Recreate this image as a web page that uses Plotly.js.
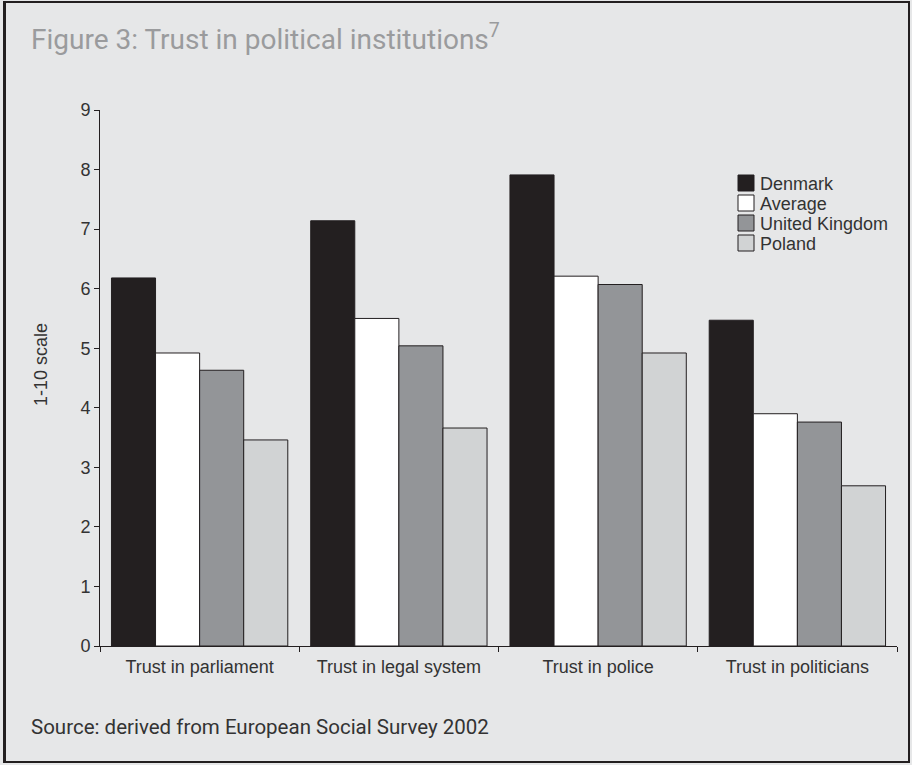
<!DOCTYPE html>
<html>
<head>
<meta charset="utf-8">
<script src="https://cdn.plot.ly/plotly-3.0.1.min.js"></script>
<style>
  html, body { margin: 0; padding: 0; background: #ffffff; }
  #wrap { position: relative; width: 912px; height: 765px; }
  #chart { position: absolute; left: 0; top: 0; width: 912px; height: 765px; }
  #frame { position: absolute; left: 3px; top: 1px; width: 902px; height: 758px;
           border: 2px solid #231f20; border-left-width: 3px; pointer-events: none; }
</style>
</head>
<body>
<div id="wrap">
  <div id="chart"></div>
  <div id="frame"></div>
</div>
<script>
// ---- data ----
const categories = ["Trust in parliament", "Trust in legal system", "Trust in police", "Trust in politicians"];
const seriesNames = ["Denmark", "Average", "United Kingdom", "Poland"];
const denmark = [6.18, 7.14, 7.91, 5.47];
const average = [4.92, 5.50, 6.21, 3.90];
const unitedKingdom = [4.63, 5.04, 6.07, 3.76];
const poland = [3.46, 3.66, 4.92, 2.69];
const yTicks = [0, 1, 2, 3, 4, 5, 6, 7, 8, 9];

// ---- styling ----
const seriesValues = [denmark, average, unitedKingdom, poland];
const seriesColors = ["#231f20", "#ffffff", "#939598", "#d1d3d4"];
const bg = "#e6e7e8";
const ink = "#231f20";
const txt = "#333333";
const sansFont = "Liberation Sans, Arial, sans-serif";
const W = 912, H = 765;
const M = { l: 100, r: 15, t: 110, b: 119 };
const plotW = W - M.l - M.r, plotH = H - M.t - M.b;
const px2x = px => (px - M.l) / plotW;
const py2y = py => (H - M.b - py) / plotH;

const traces = seriesNames.map((name, i) => ({
  type: "bar",
  name: name,
  x: categories,
  y: seriesValues[i],
  marker: { color: seriesColors[i], line: { color: ink, width: 1 } },
  hoverinfo: "x+y+name"
}));

// custom legend (swatches + labels)
const shapes = [];
const annotations = [];
const legRow0 = 183, legStep = 20, sw = 16;
seriesNames.forEach((name, i) => {
  const cy = legRow0 + i * legStep;
  shapes.push({
    type: "rect", xref: "paper", yref: "paper",
    x0: px2x(738), x1: px2x(738 + sw),
    y0: py2y(cy + sw / 2), y1: py2y(cy - sw / 2),
    fillcolor: seriesColors[i], line: { color: ink, width: 1 }
  });
  annotations.push({
    xref: "paper", yref: "paper", x: px2x(758), y: py2y(cy + 1),
    xanchor: "left", yanchor: "middle", showarrow: false, text: name,
    font: { family: sansFont, size: 18, color: txt }
  });
});

// y-axis title
annotations.push({
  xref: "paper", yref: "paper", x: px2x(41), y: py2y(365),
  xanchor: "center", yanchor: "middle", showarrow: false, textangle: -90,
  text: "1-10 scale",
  font: { family: sansFont, size: 18, color: txt }
});

// source note
annotations.push({
  xref: "paper", yref: "paper", x: px2x(29), y: py2y(727),
  xanchor: "left", yanchor: "middle", showarrow: false,
  text: "Source: derived from European Social Survey 2002",
  font: { family: "Roboto, sans-serif", size: 20.5, color: txt }
});

const layout = {
  width: W, height: H,
  margin: M,
  paper_bgcolor: bg, plot_bgcolor: bg,
  barmode: "group", bargap: 0.115, bargroupgap: 0,
  showlegend: false,
  title: {
    text: "Figure 3: Trust in political institutions<sup>7</sup>",
    xref: "container", yref: "container", x: 31 / W, xanchor: "left",
    y: 1 - 39 / H, yanchor: "middle",
    font: { family: "Roboto, sans-serif", size: 28, weight: 400, color: "#9a9b9d" }
  },
  xaxis: {
    type: "category",
    showline: true, linecolor: ink, linewidth: 1,
    ticks: "outside", tickson: "boundaries", ticklen: 5, tickcolor: ink,
    ticklabelstandoff: 4,
    showgrid: false, zeroline: false,
    tickfont: { family: sansFont, size: 18, color: txt },
    automargin: false
  },
  yaxis: {
    range: [0, 9], tickvals: yTicks, ticktext: yTicks.map(String),
    showline: true, linecolor: ink, linewidth: 1,
    ticks: "outside", ticklen: 5, tickcolor: ink,
    showgrid: false, zeroline: false,
    tickfont: { family: sansFont, size: 18, color: txt },
    automargin: false
  },
  shapes: shapes,
  annotations: annotations
};

Plotly.newPlot("chart", traces, layout, { displayModeBar: false, staticPlot: true });
</script>
</body>
</html>
